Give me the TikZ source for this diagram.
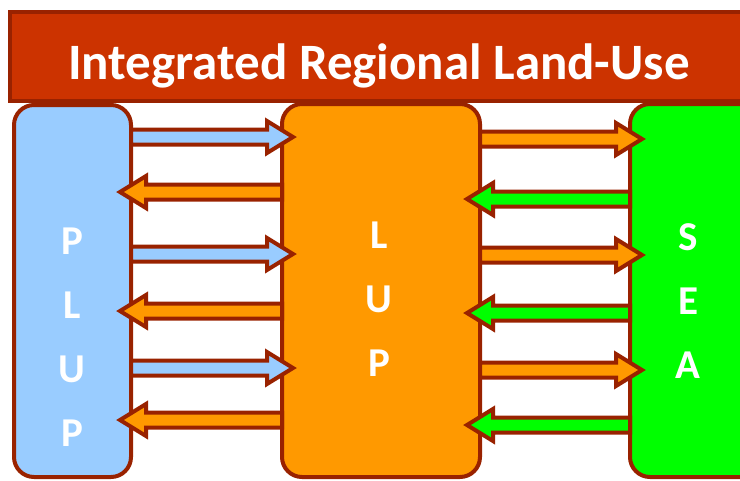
\documentclass[tikz,border=0pt]{standalone}
\usepackage{fontspec}
\setmainfont{Carlito}
\definecolor{brd}{HTML}{992200}
\definecolor{titlered}{HTML}{CC3300}
\definecolor{plupblue}{HTML}{99CCFF}
\definecolor{luporange}{HTML}{FF9900}
\definecolor{seagreen}{HTML}{00FF00}
\newcommand\rblock[4]{% tail x, tip x, y, fill
  \draw[blockarr,fill=#4] (#1,#3-7.5) -- (#2-26,#3-7.5) -- (#2-26,#3-16) -- (#2,#3)
    -- (#2-26,#3+16) -- (#2-26,#3+7.5) -- (#1,#3+7.5) -- cycle;}
\newcommand\lblock[4]{% tail x, tip x, y, fill
  \draw[blockarr,fill=#4] (#1,#3-7.5) -- (#2+26,#3-7.5) -- (#2+26,#3-16) -- (#2,#3)
    -- (#2+26,#3+16) -- (#2+26,#3+7.5) -- (#1,#3+7.5) -- cycle;}
\begin{document}
\begin{tikzpicture}[x=1pt,y=-1pt,
  box/.style={draw=brd,line width=4pt,rounded corners=20pt,inner sep=0pt,outer sep=0pt},
  blockarr/.style={draw=brd,line width=4pt,line join=miter},
  letters/.style={text=white,font=\fontsize{41}{64}\selectfont\bfseries,align=center,inner sep=0pt}]
\useasboundingbox (0,0) rectangle (740,480);
\clip (0,0) rectangle (740,480);
% columns
\node[box,fill=plupblue,minimum width=117pt,minimum height=372pt] (plup) at (72.5,291) {};
\node[box,fill=luporange,minimum width=198pt,minimum height=373pt] (lup) at (381,290.5) {};
\node[box,fill=seagreen,minimum width=130pt,minimum height=373pt] (sea) at (695,290.5) {};
% title
\node[draw=brd,fill=titlered,line width=4pt,minimum width=740pt,minimum height=89pt,inner sep=0pt] (titlebar) at (380,56.5) {};
\node[text=white,font=\fontsize{51}{60}\selectfont\bfseries,anchor=base,inner sep=0pt] (title) at (379,79) {Integrated Regional Land-Use};
% letters
\node[letters] (pluptext) at (72,337) {P\\L\\U\\P};
\node[letters] (luptext) at (379,299) {L\\U\\P};
\node[letters] (seatext) at (688,301) {S\\E\\A};
% arrows PLUP <-> LUP
\rblock{131}{293}{137}{plupblue}
\lblock{282}{120}{192}{luporange}
\rblock{131}{293}{254}{plupblue}
\lblock{282}{120}{311}{luporange}
\rblock{131}{293}{368}{plupblue}
\lblock{282}{120}{420}{luporange}
% arrows LUP <-> SEA
\rblock{480}{642}{139}{luporange}
\lblock{630}{467}{199}{seagreen}
\rblock{480}{642}{255}{luporange}
\lblock{630}{467}{313}{seagreen}
\rblock{480}{642}{370}{luporange}
\lblock{630}{467}{425}{seagreen}
\end{tikzpicture}
\end{document}
